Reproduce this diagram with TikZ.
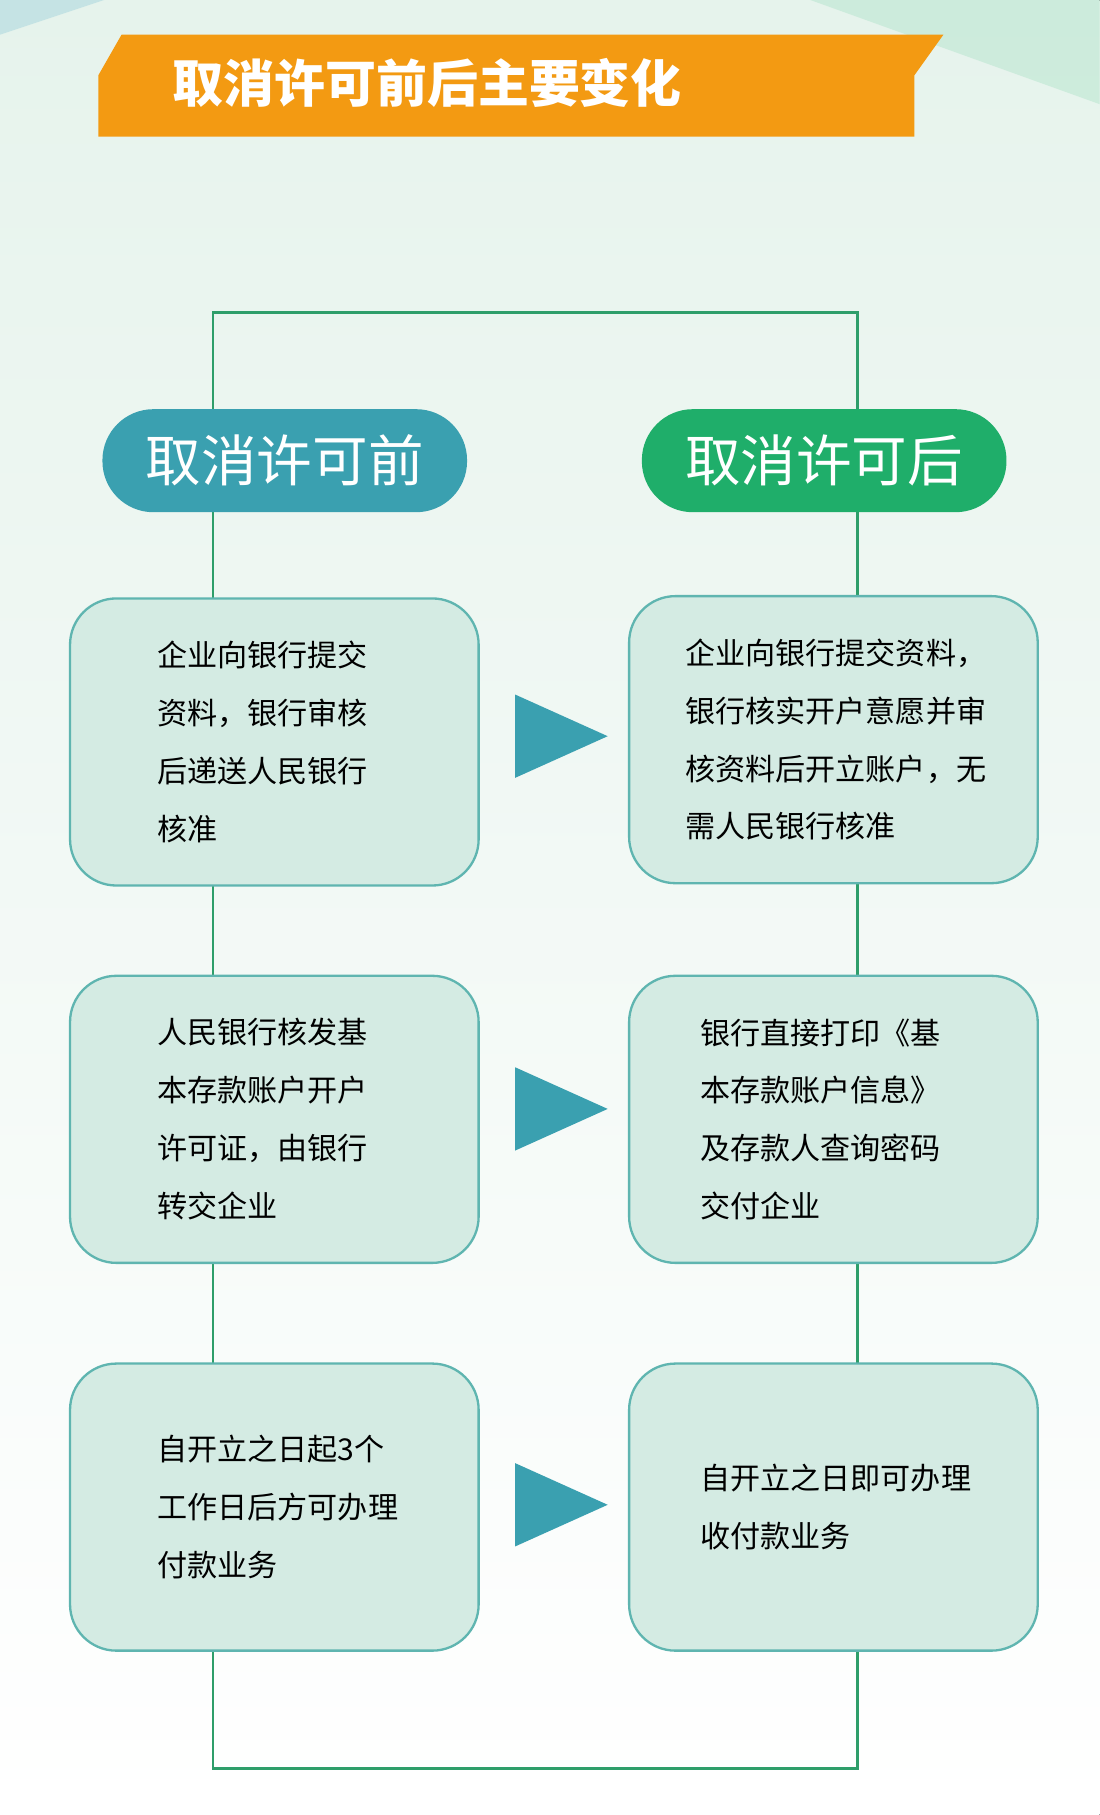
\documentclass[tikz,border=0pt]{standalone}
\usepackage{fontspec}
\setmainfont{Noto Sans CJK SC}
\usetikzlibrary{positioning}
\definecolor{bgtop}{HTML}{E6F3EC}
\definecolor{frame}{HTML}{2E9E6A}
\definecolor{teal}{HTML}{3AA0B0}
\definecolor{leaf}{HTML}{1FAE6A}
\definecolor{boxfill}{HTML}{D4EBE3}
\definecolor{boxline}{HTML}{5FB5B0}
\definecolor{banner}{HTML}{F39A12}
\begin{document}
\begin{tikzpicture}[x=0.5pt,y=-0.5pt,
		pill/.style={rounded corners=22pt,minimum width=157.5pt,minimum height=44.5pt,text=white,font=\fontsize{24}{24}\selectfont},
		card/.style={draw=boxline,line width=1pt,fill=boxfill,rounded corners=20pt,minimum width=176.5pt,minimum height=124pt,
			align=left,text width=101pt,font=\fontsize{13}{25}\selectfont},
		tip/.style={fill=teal}]
	% background
	\fill[top color=bgtop,bottom color=white] (0,0) rectangle (950,1568);
	\fill[teal!40,opacity=0.6] (0,0) -- (90,0) -- (0,30) -- cycle;
	\fill[leaf!30,opacity=0.6] (700,0) -- (950,0) -- (950,90) -- cycle;
	\useasboundingbox (0,0) rectangle (950,1568);

	% banner
	\fill[banner] (105,30) -- (815,30) -- (790,65) -- (790,118) -- (85,118) -- (85,65) -- cycle;
	\node[text=white,font=\fontsize{22}{22}\selectfont\bfseries,anchor=west] (title) at (142,72) {取消许可前后主要变化};

	% frame
	\draw[frame,line width=1.2pt] (184,270) rectangle (741,1528);

	\node[pill,fill=teal] (before) at (246,398) {取消许可前};
	\node[pill,fill=leaf] (after) at (712,398) {取消许可后};

	\node[card] (b1) at (237,641) {企业向银行提交\\资料，银行审核\\后递送人民银行\\核准};
	\node[card] (b2) at (237,967) {人民银行核发基\\本存款账户开户\\许可证，由银行\\转交企业};
	\node[card] (b3) at (237,1302) {自开立之日起3个\\工作日后方可办理\\付款业务};
	\node[card,text width=128pt] (a1) at (720,639) {企业向银行提交资料，\\银行核实开户意愿并审\\核资料后开立账户，无\\需人民银行核准};
	\node[card,text width=115pt] (a2) at (720,967) {银行直接打印《基\\本存款账户信息》\\及存款人查询密码\\交付企业};
	\node[card,text width=115pt] (a3) at (720,1302) {自开立之日即可办理\\收付款业务};

	% arrows
	\foreach \y in {636,958,1300}
		\fill[tip] (445,\y-36) -- (525,\y) -- (445,\y+36) -- cycle;
\end{tikzpicture}
\end{document}
